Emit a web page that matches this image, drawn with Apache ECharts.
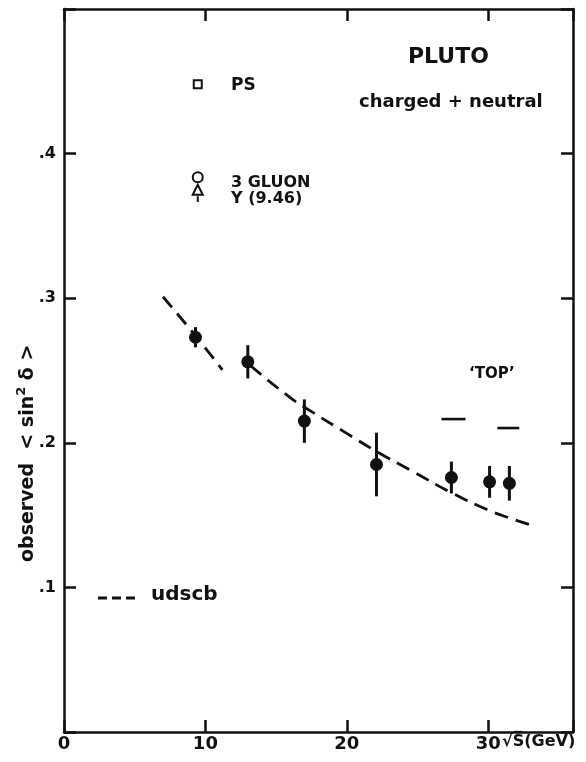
<!DOCTYPE html>
<html>
<head>
<meta charset="utf-8">
<script src="https://cdn.jsdelivr.net/npm/echarts@6/dist/echarts.min.js"></script>
<style>
  html, body { margin: 0; padding: 0; background: #fff; }
  #chart { width: 586px; height: 762px; }
</style>
</head>
<body>
<div id="chart"></div>
<script>
// PLUTO measurements of the observed <sin^2 delta> versus sqrt(s)
const energies = [9.3, 13.0, 17.0, 22.1, 27.4, 30.1, 31.5];
const sinSqValues = [0.273, 0.256, 0.215, 0.185, 0.176, 0.173, 0.172];
const sinSqErrors = [0.007, 0.0115, 0.015, 0.022, 0.011, 0.011, 0.012];

// udscb model prediction, two dashed pieces
const udscbLow = [[7.0, 0.301], [9.3, 0.274], [11.2, 0.2505]];
const udscbHigh = [[13.2, 0.2533], [15.9, 0.232], [17.6, 0.221], [20.0, 0.2065], [22.1, 0.194],
                   [24.8, 0.1795], [27.4, 0.1655], [30.0, 0.1535], [31.5, 0.148], [33.2, 0.1426]];

// 'TOP' expectation levels: [x start, x end, value]
const topLevels = [[26.7, 28.4, 0.2164], [30.65, 32.2, 0.2102]];

// Upsilon (9.46) model values
const upsilonEnergy = 9.46;
const psValue = 0.448;
const gluonValue = 0.3837;
const upsilonValue = 0.375;
const upsilonStem = [0.3705, 0.3666];

// Axis ticks and labels
const xTicks = [0, 10, 20, 30];
const xTickLabels = ['0', '10', '20', '30'];
const yTicks = [0.1, 0.2, 0.3, 0.4];
const yTickLabels = ['.1', '.2', '.3', '.4'];

const FONT = 'DejaVu Sans';
const INK = '#111';
const DASH = [14, 8];

function lookupLabel(ticks, labels, v) {
  for (let i = 0; i < ticks.length; i++) {
    if (Math.abs(ticks[i] - v) < 1e-9) return labels[i];
  }
  return '';
}

const chart = echarts.init(document.getElementById('chart'), null, { renderer: 'canvas' });

const axisLine = { show: true, onZero: false, lineStyle: { color: INK, width: 2.5 } };
const axisTick = { show: true, inside: true, length: 12, lineStyle: { color: INK, width: 2.5 } };

const option = {
  animation: false,
  backgroundColor: '#fff',
  grid: { left: 64, right: 13, top: 9, bottom: 30, containLabel: false },
  xAxis: [
    {
      type: 'value', min: 0, max: 36, interval: 10, position: 'bottom',
      axisLine, axisTick, splitLine: { show: false },
      axisLabel: {
        color: INK, fontFamily: FONT, fontSize: 18, fontWeight: 'bold', margin: 3,
        formatter: v => lookupLabel(xTicks, xTickLabels, v)
      }
    },
    {
      type: 'value', min: 0, max: 36, interval: 10, position: 'top',
      axisLine, axisTick, splitLine: { show: false }, axisLabel: { show: false }
    }
  ],
  yAxis: [
    {
      type: 'value', min: 0, max: 0.5, interval: 0.1, position: 'left',
      axisLine, axisTick, splitLine: { show: false },
      axisLabel: {
        color: INK, fontFamily: FONT, fontSize: 16, fontWeight: 'bold', margin: 8,
        formatter: v => lookupLabel(yTicks, yTickLabels, v)
      }
    },
    {
      type: 'value', min: 0, max: 0.5, interval: 0.1, position: 'right',
      axisLine, axisTick, splitLine: { show: false }, axisLabel: { show: false }
    }
  ],
  series: [
    {
      name: 'udscb', type: 'line', data: udscbLow, smooth: true, showSymbol: false, symbol: 'none',
      lineStyle: { color: INK, width: 2.8, type: DASH }, z: 2
    },
    {
      name: 'udscb', type: 'line', data: udscbHigh, smooth: true, showSymbol: false, symbol: 'none',
      lineStyle: { color: INK, width: 2.8, type: DASH }, z: 2
    },
    {
      name: 'errors', type: 'custom',
      data: energies.map((e, i) => [e, sinSqValues[i], sinSqErrors[i]]),
      renderItem: (params, api) => {
        const x = api.value(0), y = api.value(1), err = api.value(2);
        const hi = api.coord([x, y + err]);
        const lo = api.coord([x, y - err]);
        return { type: 'line', shape: { x1: hi[0], y1: hi[1], x2: lo[0], y2: lo[1] },
                 style: { stroke: INK, lineWidth: 3 } };
      },
      z: 3
    },
    {
      name: 'PLUTO', type: 'scatter',
      data: energies.map((e, i) => [e, sinSqValues[i]]),
      symbol: 'circle', symbolSize: 13,
      itemStyle: { color: INK, opacity: 1 }, z: 4
    },
    {
      name: 'TOP', type: 'custom', data: topLevels,
      renderItem: (params, api) => {
        const a = api.coord([api.value(0), api.value(2)]);
        const b = api.coord([api.value(1), api.value(2)]);
        return { type: 'line', shape: { x1: a[0], y1: a[1], x2: b[0], y2: b[1] },
                 style: { stroke: INK, lineWidth: 2.6 } };
      }
    },
    {
      name: 'PS', type: 'scatter', data: [[upsilonEnergy, psValue]],
      symbol: 'rect', symbolSize: 8,
      itemStyle: { color: '#fff', borderColor: INK, borderWidth: 2, opacity: 1 }
    },
    {
      name: '3 GLUON', type: 'scatter', data: [[upsilonEnergy, gluonValue]],
      symbol: 'circle', symbolSize: 10,
      itemStyle: { color: '#fff', borderColor: INK, borderWidth: 2, opacity: 1 }
    },
    {
      name: 'Upsilon stem', type: 'custom', data: [[upsilonEnergy, upsilonStem[0], upsilonStem[1]]],
      renderItem: (params, api) => {
        const a = api.coord([api.value(0), api.value(1)]);
        const b = api.coord([api.value(0), api.value(2)]);
        return { type: 'line', shape: { x1: a[0], y1: a[1], x2: b[0], y2: b[1] },
                 style: { stroke: INK, lineWidth: 2 } };
      }
    },
    {
      name: 'Upsilon', type: 'scatter', data: [[upsilonEnergy, upsilonValue]],
      symbol: 'triangle', symbolSize: 10,
      itemStyle: { color: '#fff', borderColor: INK, borderWidth: 2, opacity: 1 }, z: 5
    }
  ],
  graphic: [
    { type: 'text', left: 408, top: 46,
      style: { text: 'PLUTO', font: 'bold 22px "DejaVu Sans"', fill: INK } },
    { type: 'text', left: 359, top: 93,
      style: { text: 'charged + neutral', font: 'bold 18px "DejaVu Sans"', fill: INK } },
    { type: 'text', left: 231, top: 77,
      style: { text: 'PS', font: 'bold 17px "DejaVu Sans"', fill: INK } },
    { type: 'text', left: 231, top: 175,
      style: { text: '3 GLUON', font: 'bold 16px "DejaVu Sans"', fill: INK } },
    { type: 'text', left: 231, top: 191,
      style: { text: 'Υ (9.46)', font: 'bold 16px "DejaVu Sans"', fill: INK } },
    { type: 'text', left: 469, top: 367,
      style: { text: '\u2018TOP\u2019', font: 'bold 15px "DejaVu Sans"', fill: INK } },
    // legend entry for the dashed model curve
    { type: 'line', shape: { x1: 98, y1: 598, x2: 139, y2: 598 },
      style: { stroke: INK, lineWidth: 2.8, lineDash: [9, 5] } },
    { type: 'text', left: 151, top: 585,
      style: { text: 'udscb', font: 'bold 20px "DejaVu Sans"', fill: INK } },
    // x-axis title
    { type: 'text', left: 502, top: 734,
      style: { text: '\u221AS\u0305(GeV)', font: 'bold 16px "DejaVu Sans"', fill: INK } },
    // y-axis title, rotated
    { type: 'text', x: 15, y: 562, rotation: Math.PI / 2,
      style: {
        text: '{a|observed  < sin}{s|2}{a| \u03B4 >}',
        rich: {
          a: { fontFamily: FONT, fontWeight: 'bold', fontSize: 19, fill: INK, color: INK, verticalAlign: 'bottom' },
          s: { fontFamily: FONT, fontWeight: 'bold', fontSize: 13, fill: INK, color: INK, padding: [0, 0, 10, 0], verticalAlign: 'bottom' }
        },
        verticalAlign: 'top'
      }
    }
  ]
};

chart.setOption(option);
</script>
</body>
</html>
